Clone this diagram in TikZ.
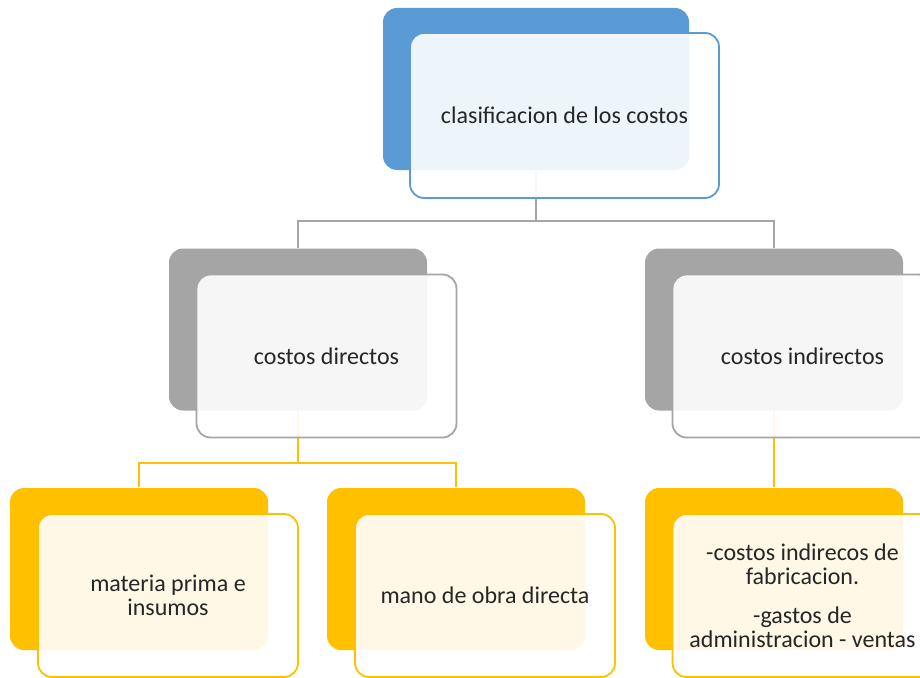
\documentclass[tikz,border=0pt]{standalone}
\usepackage{fontspec}
\setmainfont{Carlito}

\definecolor{accblue}{HTML}{5B9BD5}
\definecolor{accgray}{HTML}{A5A5A5}
\definecolor{accgold}{HTML}{FFC000}
\definecolor{inktext}{HTML}{262626}

\begin{document}
\begin{tikzpicture}[x=1pt,y=-1pt,line width=1.8pt,
  backcard/.style={rectangle,rounded corners=14pt,fill=#1,inner sep=0pt,
    minimum width=258pt,minimum height=162pt},
  frontcard/.style={rectangle,rounded corners=14pt,draw=#1,fill=white,
    fill opacity=0.9,text opacity=1,text=inktext,inner sep=0pt,
    minimum width=260pt,minimum height=163pt,align=center,
    font=\fontsize{24}{24}\selectfont},
  link/.style={draw=#1,line width=2pt}]
\useasboundingbox (0,0) rectangle (920,677);
\clip (0,0) rectangle (920,677);
% ---------- back cards (accent colour, solid) ----------
\node[backcard=accblue,minimum width=306pt] (clasb) at (536,89) {};
\node[backcard=accgray] (dirb) at (298,329.5) {};
\node[backcard=accgray] (indb) at (774,329.5) {};
\node[backcard=accgold] (matb) at (139,569) {};
\node[backcard=accgold] (manb) at (456,569) {};
\node[backcard=accgold] (otrb) at (774,569) {};
% ---------- elbow connectors, back card to back card ----------
\draw[link=accgray] (clasb.south) -- ++(0,50) -| (dirb.north);
\draw[link=accgray] (clasb.south) -- ++(0,50) -| (indb.north);
\draw[link=accgold] (dirb.south) -- ++(0,52) -| (matb.north);
\draw[link=accgold] (dirb.south) -- ++(0,52) -| (manb.north);
\draw[link=accgold] (indb.south) -- (otrb.north);
% ---------- front cards (white, see-through, with the text) ----------
\node[frontcard=accblue,minimum width=309pt,minimum height=165pt] (clas)
  at ([shift={(28.5,26.5)}]clasb.center) {clasificacion de los costos};
\node[frontcard=accgray] (dir) at ([shift={(28.5,26.5)}]dirb.center) {costos directos};
\node[frontcard=accgray] (ind) at ([shift={(28.5,26.5)}]indb.center) {costos indirectos};
\node[frontcard=accgold] (mat) at ([shift={(29,26.5)}]matb.center) {materia prima e\\insumos};
\node[frontcard=accgold] (man) at ([shift={(29,26.5)}]manb.center) {mano de obra directa};
\node[frontcard=accgold] (otr) at ([shift={(28.5,26.5)}]otrb.center)
  {-costos indirecos de\\fabricacion.\\[15pt]-gastos de\\administracion - ventas};
\end{tikzpicture}
\end{document}
